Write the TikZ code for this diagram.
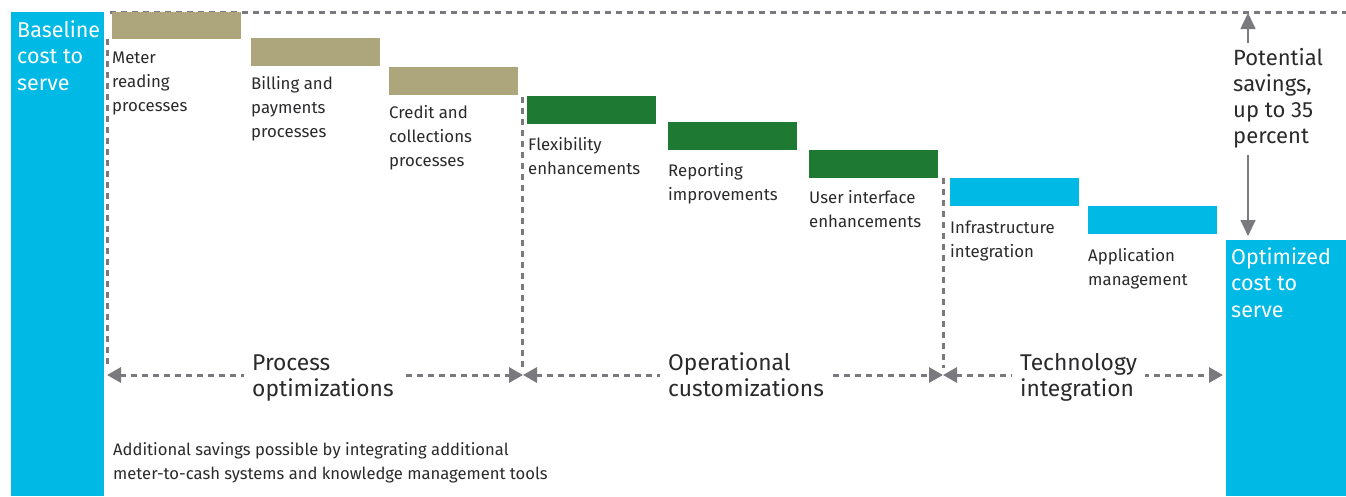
\documentclass[tikz,border=0pt]{standalone}
\usepackage{fontspec}
\setmainfont{Fira Sans}
\usetikzlibrary{arrows.meta}
\definecolor{cyanbar}{HTML}{00B9E5}
\definecolor{tanbar}{HTML}{ADA57C}
\definecolor{greenbar}{HTML}{1E7A32}
\definecolor{guide}{HTML}{7A7A7E}
\definecolor{ink}{HTML}{2A2A2C}
% stacked lines whose first baseline is the node's base
\newcommand{\stackl}[1]{\begin{tabular}[t]{@{}l@{}}#1\end{tabular}}
\begin{document}
\begin{tikzpicture}[x=1pt,y=-1pt,
  steplabel/.style={anchor=base west, inner sep=0pt, text=ink,
    font=\fontsize{16.8}{24}\selectfont},
  phaselabel/.style={anchor=base west, inner xsep=8pt, inner ysep=2pt,
    fill=white, text=ink, font=\fontsize{22.8}{26}\selectfont},
  whitelabel/.style={anchor=base west, inner sep=0pt, text=white,
    font=\fontsize{21.5}{26.5}\selectfont},
  guideline/.style={draw=guide, line width=3pt, dash pattern=on 6pt off 5pt},
  phasearrow/.style={guideline, {Triangle[length=14pt,width=15pt]}-{Triangle[length=14pt,width=15pt]}},
  savearrow/.style={draw=guide, line width=1.6pt}
]
\useasboundingbox (0,0) rectangle (1346,496);

% end columns
\fill[cyanbar] (11,12) rectangle (104,496);
\fill[cyanbar] (1226,240) rectangle (1346,496);
\node[whitelabel] (base) at (17,37) {\stackl{Baseline\\cost to\\serve}};
\node[whitelabel] (opt) at (1231,264) {\stackl{Optimized\\cost to\\serve}};

% top reference line
\coordinate (topL) at (110,12);
\coordinate (topR) at (1346,12);
\draw[guideline] (topL) -- (topR);

% step bars
\fill[tanbar]   (112,12)  rectangle (241,39)  coordinate (b1);
\fill[tanbar]   (251,38)  rectangle (380,66)  coordinate (b2);
\fill[tanbar]   (389,67)  rectangle (518,95)  coordinate (b3);
\fill[greenbar] (527,96)  rectangle (656,124) coordinate (b4);
\fill[greenbar] (668,122) rectangle (797,150) coordinate (b5);
\fill[greenbar] (809,150) rectangle (938,178) coordinate (b6);
\fill[cyanbar]  (950,178) rectangle (1079,206) coordinate (b7);
\fill[cyanbar]  (1088,206) rectangle (1217,234) coordinate (b8);

% step labels
\node[steplabel] (l1) at (112,63)  {\stackl{Meter\\reading\\processes}};
\node[steplabel] (l2) at (251,89)  {\stackl{Billing and\\payments\\processes}};
\node[steplabel] (l3) at (389,118) {\stackl{Credit and\\collections\\processes}};
\node[steplabel] (l4) at (528,150) {\stackl{Flexibility\\enhancements}};
\node[steplabel] (l5) at (668,176) {\stackl{Reporting\\improvements}};
\node[steplabel] (l6) at (809,203) {\stackl{User interface\\enhancements}};
\node[steplabel] (l7) at (950,233) {\stackl{Infrastructure\\integration}};
\node[steplabel] (l8) at (1088,261) {\stackl{Application\\management}};

% phase dividers
\coordinate (v0t) at (107,39);  \coordinate (v0b) at (107,368);
\coordinate (v1t) at (522,97);  \coordinate (v1b) at (522,368);
\coordinate (v2t) at (943,178); \coordinate (v2b) at (943,368);
\draw[guideline] (v0t) -- (v0b);
\draw[guideline] (v1t) -- (v1b);
\draw[guideline] (v2t) -- (v2b);

% phase spans
\coordinate (p0) at (107,375);
\coordinate (p1) at (523,375);
\coordinate (p2) at (943,375);
\coordinate (p3) at (1223,375);
\draw[phasearrow] (p0) -- (p1);
\draw[phasearrow] (p1) -- (p2);
\draw[phasearrow] (p2) -- (p3);
\node[phaselabel] (ph1) at (244,370) {\stackl{Process\\optimizations}};
\node[phaselabel] (ph2) at (660,370) {\stackl{Operational\\customizations}};
\node[phaselabel] (ph3) at (1012,370) {\stackl{Technology\\integration}};

% savings span
\coordinate (sTop) at (1248,13);
\coordinate (sBot) at (1248,236);
\node[anchor=base west, inner sep=0pt, text=ink,
  font=\fontsize{22}{26}\selectfont] (sav) at (1233,65)
  {\stackl{Potential\\savings,\\up to 35\\percent}};
\draw[savearrow, -{Triangle[length=16pt,width=15pt]}] (sav.north -| sTop) ++(0,-4) coordinate (sA) -- (sTop);
\draw[savearrow, -{Triangle[length=16pt,width=15pt]}] (sav.south -| sBot) ++(0,4) coordinate (sB) -- (sBot);

% footnote
\node[anchor=base west, inner sep=0pt, text=ink,
  font=\fontsize{16.6}{24}\selectfont] (note) at (113,455)
  {\stackl{Additional savings possible by integrating additional\\meter-to-cash systems and knowledge management tools}};
\end{tikzpicture}
\end{document}
